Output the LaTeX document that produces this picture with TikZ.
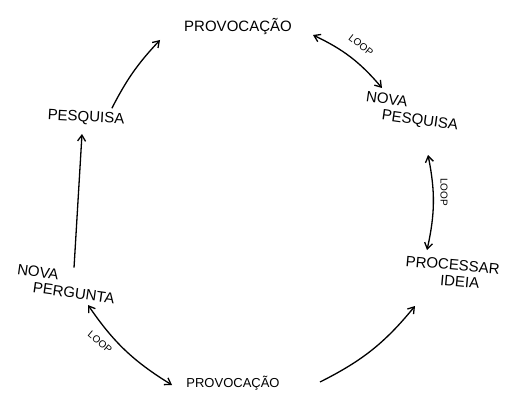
\documentclass[tikz,border=0pt]{standalone}
\usepackage{fontspec}
\setmainfont{Liberation Sans}
\usetikzlibrary{arrows.meta}
\begin{document}
\begin{tikzpicture}[x=1pt,y=-1pt,
  lbl/.style={font=\fontsize{15}{16}\selectfont, align=center, inner sep=1pt},
  small/.style={font=\fontsize{10}{11}\selectfont, inner sep=0.5pt},
  arr/.style={line width=1.3pt, -{Straight Barb[length=6pt,width=8pt]}},
  darr/.style={line width=1.3pt, {Straight Barb[length=6pt,width=8pt]}-{Straight Barb[length=6pt,width=8pt]}}]
\useasboundingbox (0,0) rectangle (514,404);
\node[lbl] (provtop) at (238,27) {PROVOCAÇÃO};
\node[lbl, rotate=-8, align=left] (novapesq) at (412,112) {NOVA\\\hspace*{1.2em}PESQUISA};
\node[lbl, rotate=-3] (pesq) at (86,118) {PESQUISA};
\node[lbl, rotate=-8, align=left] (novaperg) at (66,284) {NOVA\\\hspace*{1.2em}PERGUNTA};
\node[lbl, rotate=-5, align=left] (procid) at (452,273) {PROCESSAR\\\hspace*{2.4em}IDEIA};
\node[lbl, font=\fontsize{13}{14}\selectfont] (provbot) at (233,383) {PROVOCAÇÃO};
\coordinate (a1e) at (160,40);
\draw[arr] (pesq.north east) ++(-14,-4) coordinate (a1s) to[bend left=8] (a1e);
\draw[darr] (313,35) coordinate (l1s) to[bend left=12] (382,88) coordinate (l1e);
\node[small, rotate=-38] (loop1) at (361,45) {LOOP};
\draw[darr] (428,155) coordinate (l2s) to[bend left=12] (427,250) coordinate (l2e);
\node[small, rotate=-90] (loop2) at (444,192) {LOOP};
\draw[arr] (novaperg.north) ++(6,-2) coordinate (a2s) -- (82,134);
\draw[darr] (88,305) coordinate (l3s) to[bend right=12] (172,385) coordinate (l3e);
\node[small, rotate=-40] (loop3) at (100,342) {LOOP};
\draw[arr] (320,382) coordinate (a3s) to[bend right=12] (415,306);
\end{tikzpicture}
\end{document}
